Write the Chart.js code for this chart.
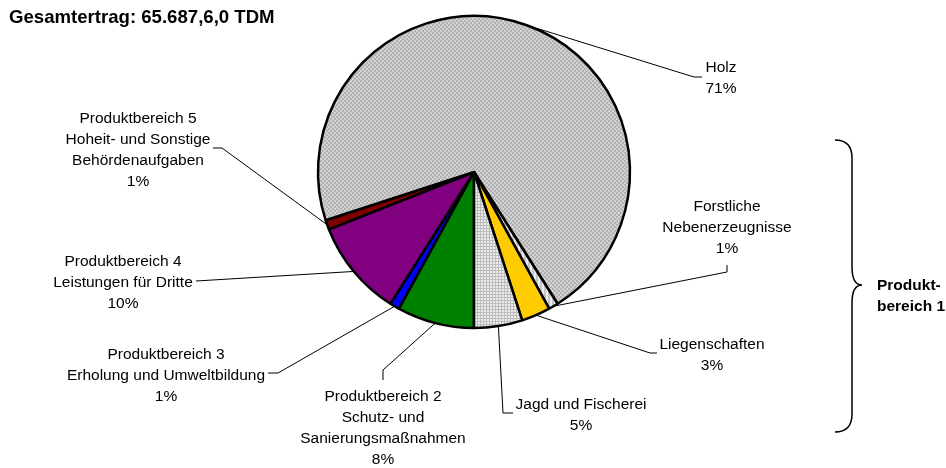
<!DOCTYPE html>
<html>
<head>
<meta charset="utf-8">
<script src="https://cdn.jsdelivr.net/npm/chart.js@4"></script>
<style>
  html, body { margin: 0; padding: 0; background: #fff; }
  canvas { display: block; }
</style>
</head>
<body>
<canvas id="c" width="946" height="468"></canvas>
<script>
// Ertragsstruktur nach Produktbereichen (Anteile in %)
const title = 'Gesamtertrag: 65.687,6,0 TDM';
const categories = [
  ['Produktbereich 2', 'Schutz- und', 'Sanierungsmaßnahmen'],
  ['Produktbereich 3', 'Erholung und Umweltbildung'],
  ['Produktbereich 4', 'Leistungen für Dritte'],
  ['Produktbereich 5', 'Hoheit- und Sonstige', 'Behördenaufgaben'],
  ['Holz'],
  ['Forstliche', 'Nebenerzeugnisse'],
  ['Liegenschaften'],
  ['Jagd und Fischerei']
];
const shares = [8, 1, 10, 1, 71, 1, 3, 5];
const groupLabel = ['Produkt-', 'bereich 1'];

const FONT = "'Liberation Sans', Arial, sans-serif";

// small tiled fills for the grey slices
function makePattern(w, h, paint) {
  const cv = document.createElement('canvas');
  cv.width = w; cv.height = h;
  const g = cv.getContext('2d');
  paint(g);
  return g.createPattern(cv, 'repeat');
}
const checkerFill = makePattern(4, 4, g => {
  g.fillStyle = '#d2d2d2'; g.fillRect(0, 0, 4, 4);
  g.fillStyle = '#b2b2b2'; g.fillRect(0, 0, 2, 2); g.fillRect(2, 2, 2, 2);
});
const stripeFill = makePattern(4, 1, g => {
  g.fillStyle = '#ececec'; g.fillRect(0, 0, 4, 1);
  g.fillStyle = '#c4c4c4'; g.fillRect(0, 0, 2, 1);
});
const gridFill = makePattern(3, 3, g => {
  g.fillStyle = '#ebebeb'; g.fillRect(0, 0, 3, 3);
  g.fillStyle = '#bcbcbc'; g.fillRect(0, 0, 3, 1); g.fillRect(0, 0, 1, 3);
});
const fills = ['#008000', '#0000ff', '#800080', '#800000', checkerFill, stripeFill, '#ffcc00', gridFill];

// where each label block sits and how its leader line bends
const labelLayout = [
  { cx: 383, y: 397, path: [[383, 370], [383, 380]] },
  { cx: 166, y: 355, path: [[278, 373], [268, 373]] },
  { cx: 123, y: 262, path: [[196, 281]] },
  { cx: 138, y: 119, path: [[222, 148], [213, 148]] },
  { cx: 721, y: 68,  path: [[694, 77], [702, 77]] },
  { cx: 727, y: 207, path: [[727, 272], [727, 265]] },
  { cx: 712, y: 345, path: [[650, 353], [657, 353]] },
  { cx: 581, y: 405, path: [[503, 413], [513, 413]] }
];
const LINE_H = 21;

const annotations = {
  id: 'annotations',
  afterDatasetsDraw(chart) {
    const ctx = chart.ctx;
    const meta = chart.getDatasetMeta(0);
    ctx.save();

    // title
    ctx.fillStyle = '#000';
    ctx.font = 'bold 18.6px ' + FONT;
    ctx.textAlign = 'left';
    ctx.textBaseline = 'middle';
    ctx.fillText(title, 9, 18);

    // leader lines + labels
    ctx.font = '15.5px ' + FONT;
    ctx.textAlign = 'center';
    meta.data.forEach((arc, i) => {
      const p = arc.getProps(['x', 'y', 'startAngle', 'endAngle', 'outerRadius'], true);
      const mid = (p.startAngle + p.endAngle) / 2;
      const lay = labelLayout[i];
      ctx.beginPath();
      ctx.moveTo(p.x + Math.cos(mid) * p.outerRadius, p.y + Math.sin(mid) * p.outerRadius);
      lay.path.forEach(([x, y]) => ctx.lineTo(x, y));
      ctx.strokeStyle = '#000';
      ctx.lineWidth = 1;
      ctx.stroke();

      const lines = categories[i].concat([shares[i] + '%']);
      lines.forEach((t, k) => ctx.fillText(t, lay.cx, lay.y + k * LINE_H));
    });

    // curly brace grouping Produktbereich 1
    const x0 = 835, xm = 852, xt = 862, yt = 140, ymid = 285, yb = 432, r = 18;
    ctx.beginPath();
    ctx.moveTo(x0, yt);
    ctx.quadraticCurveTo(xm, yt, xm, yt + r);
    ctx.lineTo(xm, ymid - r);
    ctx.quadraticCurveTo(xm, ymid, xt, ymid);
    ctx.quadraticCurveTo(xm, ymid, xm, ymid + r);
    ctx.lineTo(xm, yb - r);
    ctx.quadraticCurveTo(xm, yb, x0, yb);
    ctx.lineWidth = 1.5;
    ctx.stroke();

    ctx.font = 'bold 15.5px ' + FONT;
    ctx.textAlign = 'left';
    groupLabel.forEach((t, k) => ctx.fillText(t, 877, 286 + k * LINE_H));

    ctx.restore();
  }
};

new Chart(document.getElementById('c'), {
  type: 'pie',
  data: {
    labels: categories.map(c => c.join(' ')),
    datasets: [{
      data: shares,
      backgroundColor: fills,
      borderColor: '#000',
      borderWidth: 2.5
    }]
  },
  options: {
    responsive: false,
    animation: false,
    devicePixelRatio: 1,
    rotation: 180,
    radius: 156,
    layout: { padding: { left: 314, right: 312, top: 12, bottom: 136 } },
    plugins: {
      legend: { display: false },
      tooltip: { enabled: false }
    }
  },
  plugins: [annotations]
});
</script>
</body>
</html>
